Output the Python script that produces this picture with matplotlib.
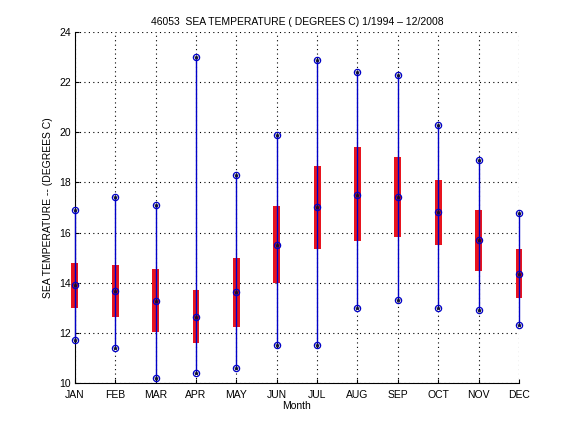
import matplotlib
matplotlib.use("Agg")
import matplotlib.pyplot as plt
import numpy as np

months = ["JAN", "FEB", "MAR", "APR", "MAY", "JUN", "JUL", "AUG", "SEP", "OCT", "NOV", "DEC"]
t_max = [16.9, 17.4, 17.1, 23.0, 18.3, 19.9, 22.9, 22.4, 22.3, 20.3, 18.9, 16.8]
t_min = [11.7, 11.4, 10.2, 10.4, 10.6, 11.5, 11.5, 13.0, 13.3, 13.0, 12.9, 12.3]
q_hi = [14.8, 14.7, 14.55, 13.7, 15.0, 17.05, 18.65, 19.4, 19.0, 18.1, 16.9, 15.35]
q_lo = [13.0, 12.65, 12.05, 11.6, 12.25, 14.0, 15.35, 15.65, 15.83, 15.5, 14.48, 13.4]
t_med = [13.92, 13.68, 13.28, 12.65, 13.63, 15.5, 17.02, 17.5, 17.42, 16.83, 15.7, 14.35]

plt.rcParams['font.family'] = ['Liberation Sans', 'DejaVu Sans']
fig = plt.figure(figsize=(5.76, 4.32), dpi=100)
ax = fig.add_axes([0.13, 0.1134, 0.771, 0.8126])

x = np.arange(1, 13)
bars = ax.bar(x, np.array(q_hi) - np.array(q_lo), bottom=q_lo, width=0.17,
              color='#e8141e', zorder=2)
for b in bars:
    b.set_clip_on(False)
ax.vlines(x, t_min, t_max, color='#0000c8', lw=1.0, zorder=3, clip_on=False)
for vals in (t_max, t_min, t_med):
    ax.plot(x, vals, 'o', ms=4.5, mfc='none', mec='#0000c8', mew=0.9, zorder=4, clip_on=False)
    ax.plot(x, vals, '*', ms=3, color='#101030', mew=0.5, zorder=5, clip_on=False)

ax.set_xlim(1, 12)
ax.set_ylim(10, 24)
ax.set_xticks(x)
ax.set_xticklabels(months)
ax.set_yticks(np.arange(10, 25, 2))
ax.tick_params(direction='in', labelsize=7.5, length=3)
ax.tick_params(axis='x', pad=5)
ax.tick_params(axis='y', pad=3)
ax.grid(True, color='black', linestyle=(0, (1, 3)), linewidth=0.8)
ax.set_axisbelow(True)
for s in ('top', 'right'):
    ax.spines[s].set_visible(False)
ax.set_xlabel("Month", fontsize=7.5, labelpad=1)
ax.set_ylabel("SEA TEMPERATURE -- (DEGREES C)", fontsize=7.5)
ax.set_title("46053  SEA TEMPERATURE ( DEGREES C) 1/1994 \u2013 12/2008", fontsize=7.5, pad=5)
fig.savefig("out.png", dpi=100)
